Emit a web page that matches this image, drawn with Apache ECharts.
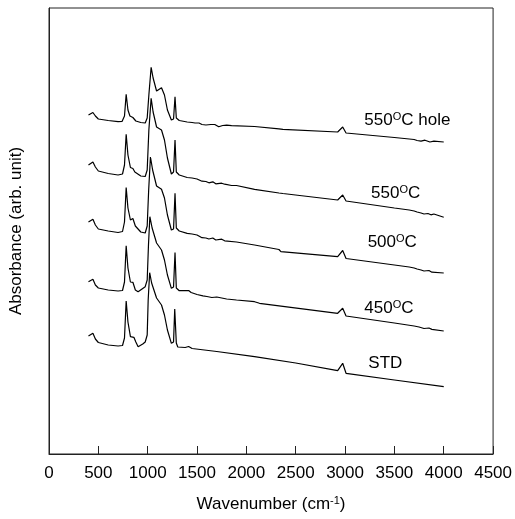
<!DOCTYPE html>
<html><head><meta charset="utf-8">
<script src="https://cdn.jsdelivr.net/npm/echarts@6/dist/echarts.min.js"></script>
<style>html,body{margin:0;padding:0;background:#fff}#c{width:515px;height:519px}</style>
</head><body><div id="c"></div>
<script>
// Axis settings (wavenumber, cm^-1)
const xMin = 0, xMax = 4500, xStep = 500;
const yMin = 0, yMax = 4.46; // arbitrary absorbance units

const seriesNames = ['550°C hole', '550°C', '500°C', '450°C', 'STD'];
const labelTexts = ['{n|550}{s|O}{n|C hole}', '{n|550}{s|O}{n|C}', '{n|500}{s|O}{n|C}', '{n|450}{s|O}{n|C}', '{n|STD}'];
// label anchors in data units [wavenumber, absorbance]
const labelAnchors = [[3195, 3.335], [3263, 2.602], [3229, 2.112], [3195, 1.453], [3236, 0.902]];

// Spectra: [wavenumber, absorbance (offset, arb. unit)]
const hole550 = [[400,3.39],[420,3.40],[445,3.415],[470,3.38],[500,3.35],[600,3.335],[700,3.323],[740,3.325],[765,3.38],[782,3.597],[800,3.44],[820,3.38],[850,3.365],[880,3.33],[930,3.315],[975,3.31],[995,3.36],[1012,3.59],[1035,3.867],[1055,3.76],[1090,3.63],[1140,3.663],[1170,3.59],[1200,3.44],[1240,3.34],[1262,3.35],[1277,3.573],[1290,3.36],[1320,3.335],[1400,3.32],[1450,3.315],[1480,3.31],[1500,3.30],[1520,3.31],[1550,3.295],[1570,3.305],[1590,3.29],[1600,3.28],[1610,3.30],[1640,3.295],[1660,3.285],[1680,3.295],[1700,3.29],[1720,3.272],[1730,3.29],[1760,3.285],[1800,3.288],[1850,3.283],[2083,3.275],[2330,3.252],[2350,3.235],[2370,3.247],[2925,3.22],[2976,3.27],[3010,3.21],[3500,3.165],[3650,3.15],[3700,3.145],[3730,3.135],[3750,3.142],[3770,3.128],[3790,3.12],[3810,3.138],[3830,3.127],[3860,3.12],[3880,3.132],[3900,3.128],[4000,3.12]];
const t550 = [[400,2.89],[420,2.905],[445,2.92],[470,2.87],[500,2.83],[600,2.805],[700,2.79],[745,2.80],[765,2.89],[782,3.197],[800,2.99],[825,2.865],[850,2.855],[870,2.82],[930,2.78],[975,2.775],[995,2.84],[1012,3.24],[1035,3.557],[1055,3.42],[1090,3.27],[1140,3.24],[1170,3.14],[1200,2.96],[1240,2.80],[1262,2.82],[1277,3.14],[1290,2.82],[1320,2.79],[1400,2.765],[1450,2.76],[1500,2.75],[1520,2.74],[1550,2.728],[1570,2.742],[1590,2.725],[1620,2.712],[1640,2.73],[1660,2.722],[1690,2.702],[1710,2.718],[1750,2.708],[1780,2.698],[1800,2.703],[1850,2.685],[1900,2.685],[2083,2.647],[2330,2.61],[2350,2.59],[2370,2.605],[2925,2.54],[2976,2.59],[3010,2.53],[3500,2.46],[3650,2.44],[3700,2.43],[3730,2.42],[3750,2.425],[3770,2.41],[3800,2.40],[3820,2.418],[3840,2.405],[3870,2.392],[3890,2.405],[3900,2.40],[4000,2.367]];
const t500 = [[400,2.32],[420,2.335],[445,2.347],[470,2.29],[500,2.25],[600,2.23],[700,2.215],[745,2.225],[765,2.32],[782,2.665],[800,2.46],[825,2.34],[850,2.355],[875,2.28],[930,2.22],[975,2.21],[995,2.28],[1010,2.64],[1028,2.97],[1050,2.84],[1090,2.68],[1140,2.647],[1170,2.56],[1200,2.39],[1240,2.24],[1262,2.25],[1277,2.607],[1290,2.26],[1320,2.23],[1400,2.207],[1450,2.20],[1500,2.19],[1520,2.18],[1550,2.163],[1570,2.18],[1590,2.16],[1620,2.15],[1640,2.167],[1660,2.16],[1690,2.14],[1710,2.155],[1750,2.148],[1780,2.132],[1800,2.14],[1900,2.12],[2083,2.09],[2330,2.045],[2350,2.023],[2370,2.04],[2925,1.973],[2976,2.035],[3010,1.955],[3500,1.89],[3650,1.87],[3700,1.86],[3730,1.85],[3750,1.856],[3770,1.84],[3800,1.83],[3820,1.845],[3850,1.835],[3880,1.818],[3900,1.828],[4000,1.81]];
const t450 = [[400,1.723],[420,1.74],[445,1.747],[470,1.69],[500,1.66],[600,1.64],[700,1.63],[745,1.635],[765,1.72],[782,2.083],[800,1.86],[825,1.72],[850,1.717],[875,1.64],[903,1.623],[975,1.673],[995,1.74],[1008,2.09],[1022,2.373],[1045,2.26],[1090,2.11],[1140,2.04],[1170,1.94],[1200,1.79],[1240,1.657],[1262,1.67],[1277,2.015],[1290,1.66],[1320,1.633],[1415,1.635],[1440,1.615],[1500,1.595],[1560,1.582],[1580,1.59],[1600,1.575],[1650,1.565],[1700,1.57],[1800,1.55],[1900,1.54],[2083,1.523],[2133,1.507],[2925,1.407],[2976,1.457],[3010,1.38],[3500,1.31],[3700,1.28],[3750,1.27],[3770,1.262],[3800,1.255],[3850,1.26],[3880,1.246],[3900,1.245],[4000,1.23]];
const tSTD = [[400,1.18],[420,1.195],[445,1.207],[470,1.15],[500,1.115],[600,1.09],[700,1.08],[745,1.085],[765,1.16],[782,1.53],[800,1.32],[825,1.173],[860,1.167],[880,1.12],[903,1.073],[950,1.10],[975,1.12],[995,1.19],[1005,1.54],[1020,1.813],[1040,1.71],[1090,1.56],[1140,1.49],[1170,1.39],[1200,1.24],[1240,1.107],[1262,1.12],[1274,1.45],[1290,1.11],[1305,1.07],[1380,1.065],[1415,1.075],[1450,1.055],[1700,1.025],[2083,0.973],[2500,0.91],[2925,0.833],[2976,0.907],[3010,0.807],[3500,0.74],[4000,0.673]];

const spectra = [hole550, t550, t500, t450, tSTD];
const FONT = 'Liberation Sans, Arial, Helvetica, sans-serif';
const richText = {
  n: { fontSize: 17, fontFamily: FONT, color: '#000', lineHeight: 19 },
  s: { fontSize: 11, fontFamily: FONT, color: '#000', lineHeight: 11, verticalAlign: 'top' }
};

const chart = echarts.init(document.getElementById('c'), null, { renderer: 'canvas' });
chart.setOption({
  animation: false,
  backgroundColor: '#fff',
  grid: { left: 49, right: 21, top: 8, bottom: 65, show: true, borderColor: '#222', borderWidth: 1, backgroundColor: 'transparent' },
  xAxis: {
    type: 'value', min: xMin, max: xMax, interval: xStep,
    name: '{n|Wavenumber (cm}{s|-1}{n|)}', nameLocation: 'middle', nameGap: 41,
    nameTextStyle: { fontSize: 17, fontFamily: FONT, color: '#000', rich: richText },
    axisLine: { show: true, lineStyle: { color: '#222', width: 1 } },
    axisTick: { show: true, inside: true, length: 8, lineStyle: { color: '#222', width: 1 } },
    axisLabel: { fontSize: 17, fontFamily: FONT, color: '#000', margin: 11, formatter: v => String(v) },
    splitLine: { show: false }
  },
  yAxis: {
    type: 'value', min: yMin, max: yMax,
    name: 'Absorbance (arb. unit)', nameLocation: 'middle', nameGap: 24,
    nameTextStyle: { fontSize: 17, fontFamily: FONT, color: '#000' },
    axisLine: { show: true, lineStyle: { color: '#222', width: 1 } },
    axisTick: { show: false }, axisLabel: { show: false }, splitLine: { show: false }
  },
  series: spectra.map((d, i) => ({
    name: seriesNames[i], type: 'line', data: d, showSymbol: false, symbol: 'none',
    lineStyle: { color: '#000', width: 1.2 }, silent: true,
    markPoint: {
      symbol: 'circle', symbolSize: 0, silent: true,
      data: [{ coord: labelAnchors[i], label: { show: true, position: 'right', distance: 0, formatter: labelTexts[i], rich: richText } }]
    }
  }))
});
</script></body></html>
